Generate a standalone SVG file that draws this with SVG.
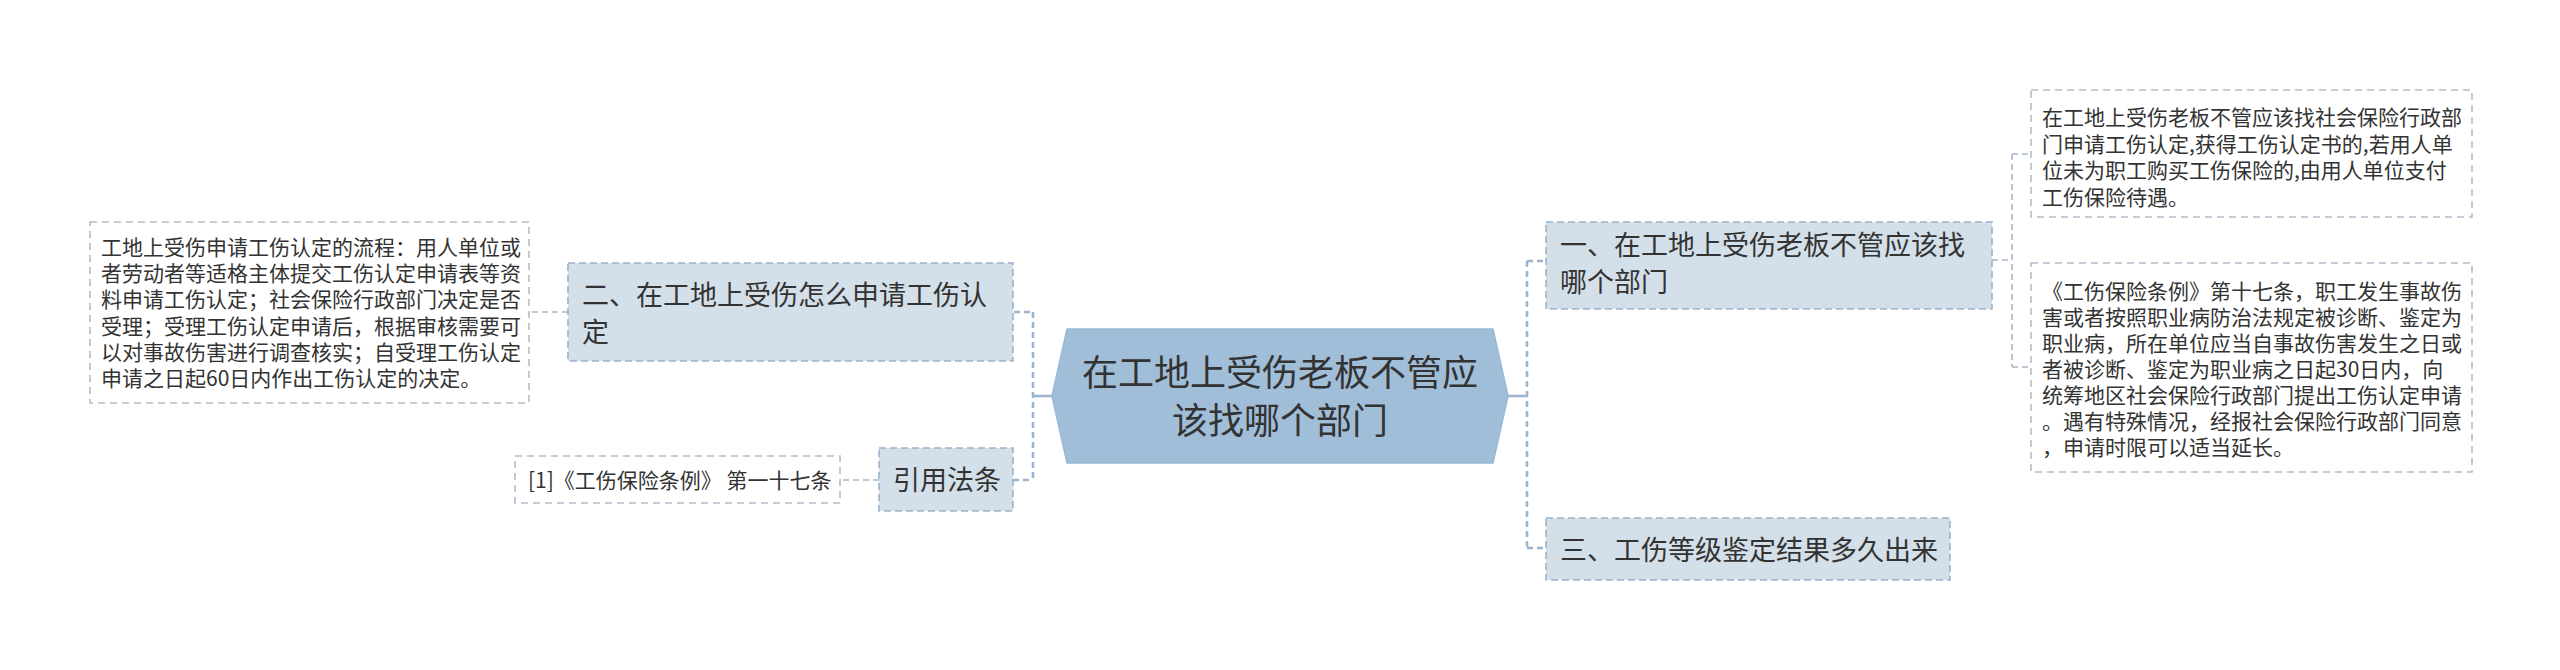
<svg xmlns="http://www.w3.org/2000/svg" width="2560" height="670" viewBox="0 0 2560 670">
<style>
text{font-family:"Noto Sans CJK SC","Noto Sans",sans-serif;fill:#333333}
.node rect{fill:#d3dfe9;stroke:#9db3c8;stroke-width:1.6;stroke-dasharray:7 4}
.detail rect{fill:#ffffff;stroke:#b3bec9;stroke-width:1.6;stroke-dasharray:7 5}
.nt{font-size:27px}
.dt{font-size:21px}
.main{fill:none;stroke:#9cb5cf;stroke-width:2.6;stroke-dasharray:6 4}
.stub{fill:none;stroke:#9cb5cf;stroke-width:2.6}
.sub{fill:none;stroke:#a6b6c6;stroke-width:1.6;stroke-dasharray:6 4}
</style>
<rect x="0" y="0" width="2560" height="670" fill="#ffffff"/>
<g id="connectors">
<path class="stub" d="M1052,396 H1033"/>
<path class="main" d="M1033,312 V480 M1014,312 H1033 M1013,480 H1033"/>
<path class="stub" d="M1508,396 H1527"/>
<path class="main" d="M1527,261 V548 M1527,261 H1546 M1527,548 H1546"/>
<path class="sub" d="M568,312 H529"/>
<path class="sub" d="M879,480 H840"/>
<path class="sub" d="M1992,260 H2012 M2012,154 V367 M2012,154 H2031 M2012,367 H2031"/>
</g>
<g id="center">
<path d="M1067,329 L1493,329 L1508,396 L1493,463 L1067,463 L1052,396 Z" fill="#a1bed9" stroke="#9ab8d5" stroke-width="1.5" stroke-linejoin="round"/>
<text x="1280" y="386" font-size="36" text-anchor="middle">在工地上受伤老板不管应</text>
<text x="1280" y="434" font-size="36" text-anchor="middle">该找哪个部门</text>
</g>
<g id="node-2" class="node">
<rect x="568" y="263" width="445" height="98"/>
<text class="nt" x="582" y="305">二、在工地上受伤怎么申请工伤认</text>
<text class="nt" x="582" y="342">定</text>
</g>
<g id="node-law" class="node">
<rect x="879" y="448" width="134" height="63"/>
<text class="nt" x="893" y="490">引用法条</text>
</g>
<g id="node-1" class="node">
<rect x="1546" y="222" width="446" height="87"/>
<text class="nt" x="1560" y="255">一、在工地上受伤老板不管应该找</text>
<text class="nt" x="1560" y="292">哪个部门</text>
</g>
<g id="node-3" class="node">
<rect x="1546" y="518" width="404" height="62"/>
<text class="nt" x="1560" y="560">三、工伤等级鉴定结果多久出来</text>
</g>
<g id="detail-2" class="detail">
<rect x="90" y="222" width="439" height="181"/>
<text class="dt" x="101" y="255">工地上受伤申请工伤认定的流程：用人单位或</text>
<text class="dt" x="101" y="281">者劳动者等适格主体提交工伤认定申请表等资</text>
<text class="dt" x="101" y="307">料申请工伤认定；社会保险行政部门决定是否</text>
<text class="dt" x="101" y="334">受理；受理工伤认定申请后，根据审核需要可</text>
<text class="dt" x="101" y="360">以对事故伤害进行调查核实；自受理工伤认定</text>
<text class="dt" x="101" y="386">申请之日起60日内作出工伤认定的决定。</text>
</g>
<g id="detail-law" class="detail">
<rect x="515" y="456" width="325" height="47"/>
<text class="dt" x="528" y="488">[1]《工伤保险条例》 第一十七条</text>
</g>
<g id="detail-1a" class="detail">
<rect x="2031" y="90" width="441" height="127"/>
<text class="dt" x="2042" y="125">在工地上受伤老板不管应该找社会保险行政部</text>
<text class="dt" x="2042" y="152">门申请工伤认定,获得工伤认定书的,若用人单</text>
<text class="dt" x="2042" y="178">位未为职工购买工伤保险的,由用人单位支付</text>
<text class="dt" x="2042" y="205">工伤保险待遇。</text>
</g>
<g id="detail-1b" class="detail">
<rect x="2031" y="263" width="441" height="209"/>
<text class="dt" x="2042" y="299">《工伤保险条例》第十七条，职工发生事故伤</text>
<text class="dt" x="2042" y="325">害或者按照职业病防治法规定被诊断、鉴定为</text>
<text class="dt" x="2042" y="351">职业病，所在单位应当自事故伤害发生之日或</text>
<text class="dt" x="2042" y="377">者被诊断、鉴定为职业病之日起30日内，向</text>
<text class="dt" x="2042" y="403">统筹地区社会保险行政部门提出工伤认定申请</text>
<text class="dt" x="2042" y="429">。遇有特殊情况，经报社会保险行政部门同意</text>
<text class="dt" x="2042" y="455">，申请时限可以适当延长。</text>
</g>
</svg>
